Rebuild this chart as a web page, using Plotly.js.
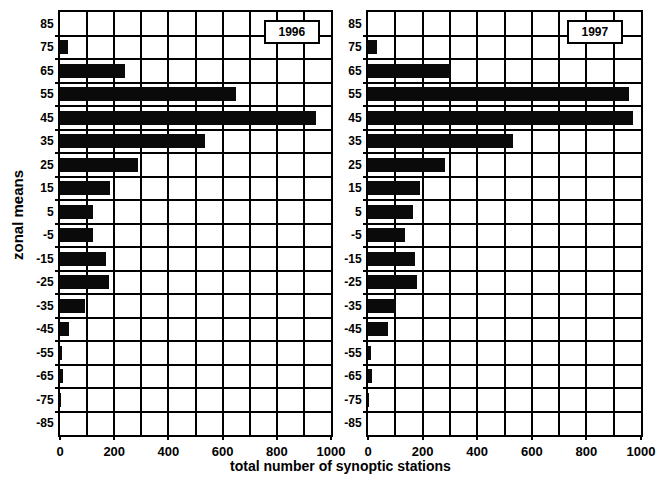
<!DOCTYPE html>
<html><head><meta charset="utf-8">
<script src="https://cdn.plot.ly/plotly-3.0.1.min.js"></script>
<style>html,body{margin:0;padding:0;background:#fff}</style>
</head><body>
<div id="chart" style="width:664px;height:482px"></div>
<script>
const zones = [85, 75, 65, 55, 45, 35, 25, 15, 5, -5, -15, -25, -35, -45, -55, -65, -75, -85];
const zoneLabels = ["85","75","65","55","45","35","25","15","5","-5","-15","-25","-35","-45","-55","-65","-75","-85"];
const stations1996 = [0, 30, 240, 650, 945, 535, 287, 183, 123, 123, 170, 180, 92, 33, 6, 12, 3, 0];
const stations1997 = [0, 33, 303, 957, 970, 531, 283, 190, 164, 134, 172, 181, 103, 72, 12, 14, 5, 0];
const xTicks = [0, 200, 400, 600, 800, 1000];
const zoneBounds = [-80, -70, -60, -50, -40, -30, -20, -10, 0, 10, 20, 30, 40, 50, 60, 70, 80];
const panelLabels = ["1996", "1997"];

const font = {family: "Liberation Sans, Arial, sans-serif", color: "#000", size: 12, weight: 700};

function bars(vals, xa, ya) {
  return {type: "bar", orientation: "h", x: vals, y: zones, xaxis: xa, yaxis: ya,
    width: 6, marker: {color: "#0a0a0a", line: {width: 0}}, hoverinfo: "x+y"};
}
function xax(dom) {
  return {domain: dom, range: [0, 1000], tickvals: xTicks, ticktext: xTicks.map(String),
    showgrid: true, gridcolor: "#000", gridwidth: 2, zeroline: false,
    showline: true, mirror: true, linecolor: "#000", linewidth: 2,
    ticks: "outside", ticklen: 3, tickcolor: "#000", tickwidth: 2,
    minor: {dtick: 100, tick0: 0, showgrid: true, gridcolor: "#000", gridwidth: 2, ticks: ""},
    tickfont: Object.assign({}, font, {size: 13}), automargin: false, fixedrange: true};
}
function yax(anchor) {
  return {domain: [0.0975, 0.9751], range: [-90, 90], anchor: anchor,
    tickvals: zones, ticktext: zoneLabels, showgrid: false, zeroline: false,
    showline: true, mirror: true, linecolor: "#000", linewidth: 2, ticks: "",
    minor: {tickmode: "array", tickvals: zoneBounds, showgrid: true, gridcolor: "#000", gridwidth: 2,
      ticks: "outside", ticklen: 3, tickcolor: "#000", tickwidth: 2},
    tickfont: font, ticklabelstandoff: 2, automargin: false, fixedrange: true};
}

const data = [bars(stations1996, "x", "y"), bars(stations1997, "x2", "y2")];

const layout = {
  width: 664, height: 482, margin: {l: 0, r: 0, t: 0, b: 0},
  paper_bgcolor: "#fff", plot_bgcolor: "#fff", showlegend: false, bargap: 0,
  xaxis: xax([0.0904, 0.4985]), yaxis: yax("x"),
  xaxis2: Object.assign(xax([0.5542, 0.9654]), {anchor: "y2"}), yaxis2: yax("x2"),
  annotations: [
    {xref: "x", yref: "y", x: 855, y: 81.5, text: panelLabels[0], showarrow: false,
      font: font, bordercolor: "#000", borderwidth: 2, borderpad: 3, bgcolor: "#fff", width: 46},
    {xref: "x2", yref: "y2", x: 833, y: 81.5, text: panelLabels[1], showarrow: false,
      font: font, bordercolor: "#000", borderwidth: 2, borderpad: 3, bgcolor: "#fff", width: 46},
    {xref: "paper", yref: "paper", x: 341 / 664, y: 1 - 466 / 482, text: "total number of synoptic stations",
      showarrow: false, font: Object.assign({}, font, {size: 14}), xanchor: "center", yanchor: "middle"},
    {xref: "paper", yref: "paper", x: 18 / 664, y: 1 - 215 / 482, text: "zonal means", textangle: -90,
      showarrow: false, font: Object.assign({}, font, {size: 15}), xanchor: "center", yanchor: "middle"}
  ]
};

Plotly.newPlot("chart", data, layout, {staticPlot: true, displayModeBar: false});
</script>
</body></html>
